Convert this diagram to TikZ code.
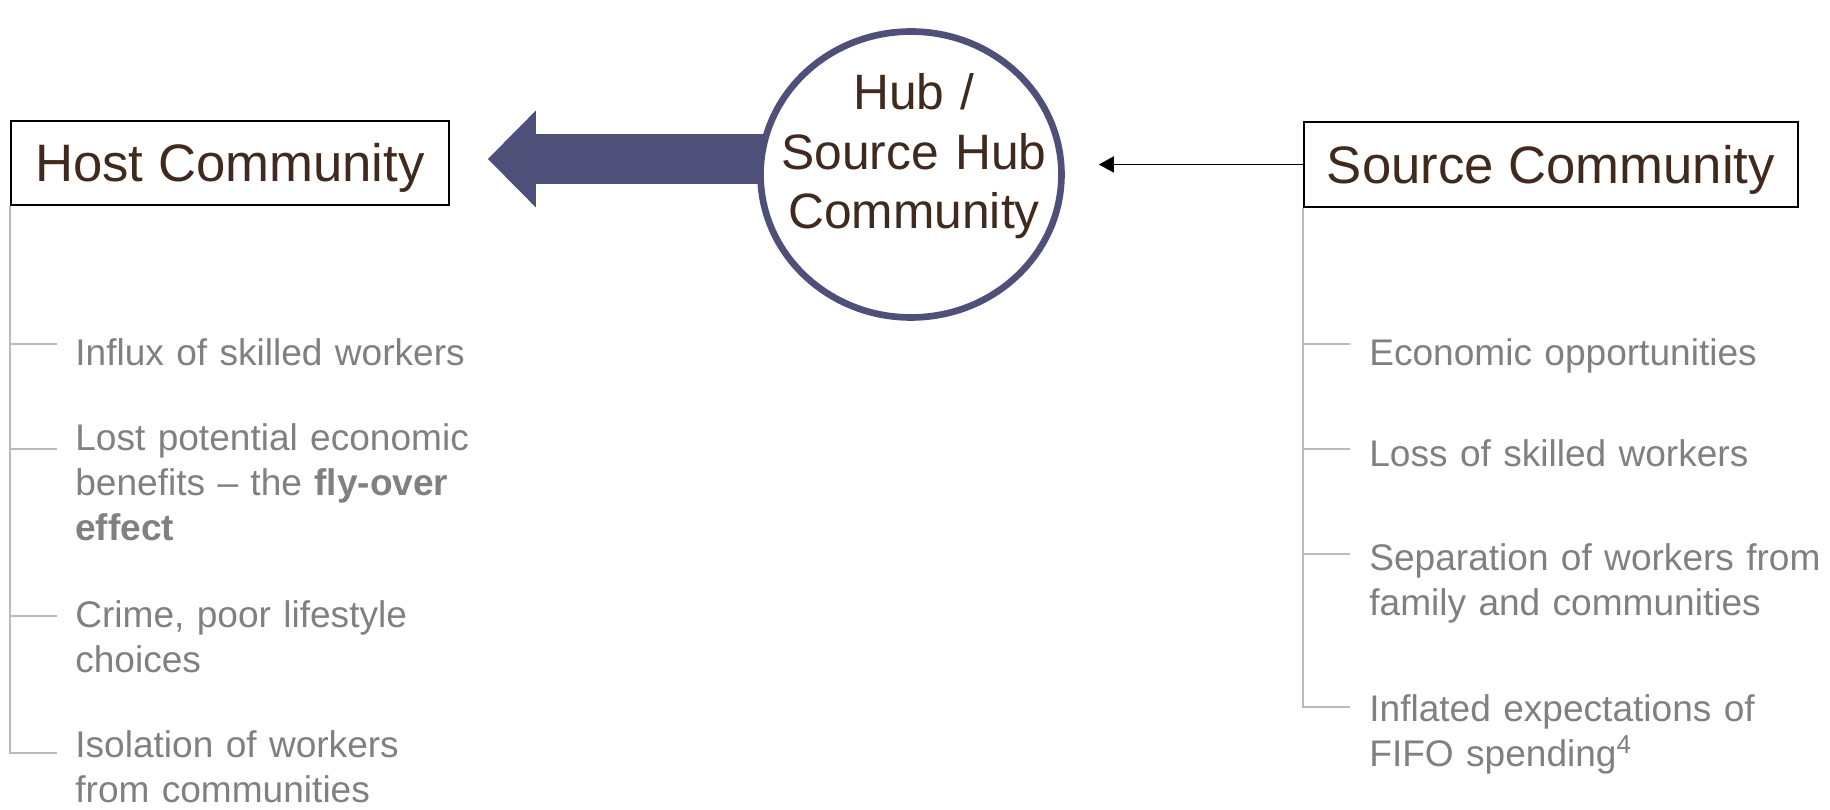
\documentclass[tikz,border=0pt]{standalone}
\usepackage{fontspec}
\setmainfont{Liberation Sans}
\usetikzlibrary{positioning,arrows.meta,shapes.geometric}

\definecolor{hubblue}{HTML}{4F5079}
\definecolor{titlebrown}{HTML}{40291D}
\colorlet{item text}{black!50}
\colorlet{branch line}{black!27}
\def\titlefont{\fontsize{30pt}{36pt}\selectfont}
\def\hubfont{\fontsize{28.3pt}{33.6pt}\selectfont}
\def\itemfont{\fontsize{21.1pt}{25.6pt}\selectfont}
\tikzset{
  titlebox/.style={draw=black, line width=1.1pt, inner sep=0pt, text=titlebrown, font=\titlefont, text height=22pt, text depth=0.4pt},
  hubring/.style={ellipse, draw=hubblue, line width=3.8pt, fill=white, inner sep=0pt, minimum width=6.02cm, minimum height=5.72cm},
  hubtext/.style={anchor=base, inner sep=0pt, text width=6cm, align=center, text=titlebrown, font=\hubfont},
  fatarrow/.style={draw=hubblue, line width=1cm, -{Triangle[length=0.96cm, width=1.94cm, line width=0pt]}},
  thinarrow/.style={draw=black, line width=1pt, -{Triangle[length=0.3cm, width=0.32cm]}}
  }
\tikzstyle{branch} = [draw=branch line, line width=0.9pt]
\tikzstyle{item} = [anchor=base west, inner sep=0pt, text width=9.6cm, align=left, text=item text, font=\itemfont]

\begin{document}
\begin{tikzpicture}[x=0.02cm, y=-0.02cm]
  \useasboundingbox (0,0) rectangle (1830,810);

  \node[titlebox, minimum width=8.76cm, minimum height=1.68cm] (host) at (230,163) {Host Community};
  \node[titlebox, minimum width=9.88cm, minimum height=1.7cm] (source) at (1551,164.5) {Source Community};

  \coordinate (hub centre) at (911,174.5);
  \coordinate (fat tip) at ([xshift=0.76cm, yshift=0.08cm]host.east);
  \draw[fatarrow] (fat tip -| hub centre) -- (fat tip);

  \node[hubring] (hub) at (hub centre) {};
  \node[hubtext] (hub label) at (914,110) {Hub /\\Source Hub\\Community};

  \draw[thinarrow, shorten >=0.68cm] (source.west) -- (source.west -| hub.east);

  \foreach \y/\base/\name/\txt in {344/366/h1/{Influx of skilled workers},
      449/451/h2/{Lost potential economic\\benefits -- the \textbf{fly-over}\\\textbf{effect}},
      616/628/h3/{Crime, poor lifestyle\\choices},
      753/758/h4/{Isolation of workers\\from communities}} {
    \coordinate (\name) at (57,\y);
    \node[item] (\name text) at (75,\base) {\txt};
    \draw[branch] (host.south west) |- (\name);
  }

  \foreach \y/\base/\name/\txt in {344/366/s1/{Economic opportunities},
      449/467/s2/{Loss of skilled workers},
      554/571/s3/{Separation of workers from\\family and communities},
      707/722/s4/{Inflated expectations of\\FIFO spending\textsuperscript{4}}} {
    \coordinate (\name) at (1350,\y);
    \node[item] (\name text) at (1369,\base) {\txt};
    \draw[branch] (source.south west) |- (\name);
  }
\end{tikzpicture}
\end{document}
